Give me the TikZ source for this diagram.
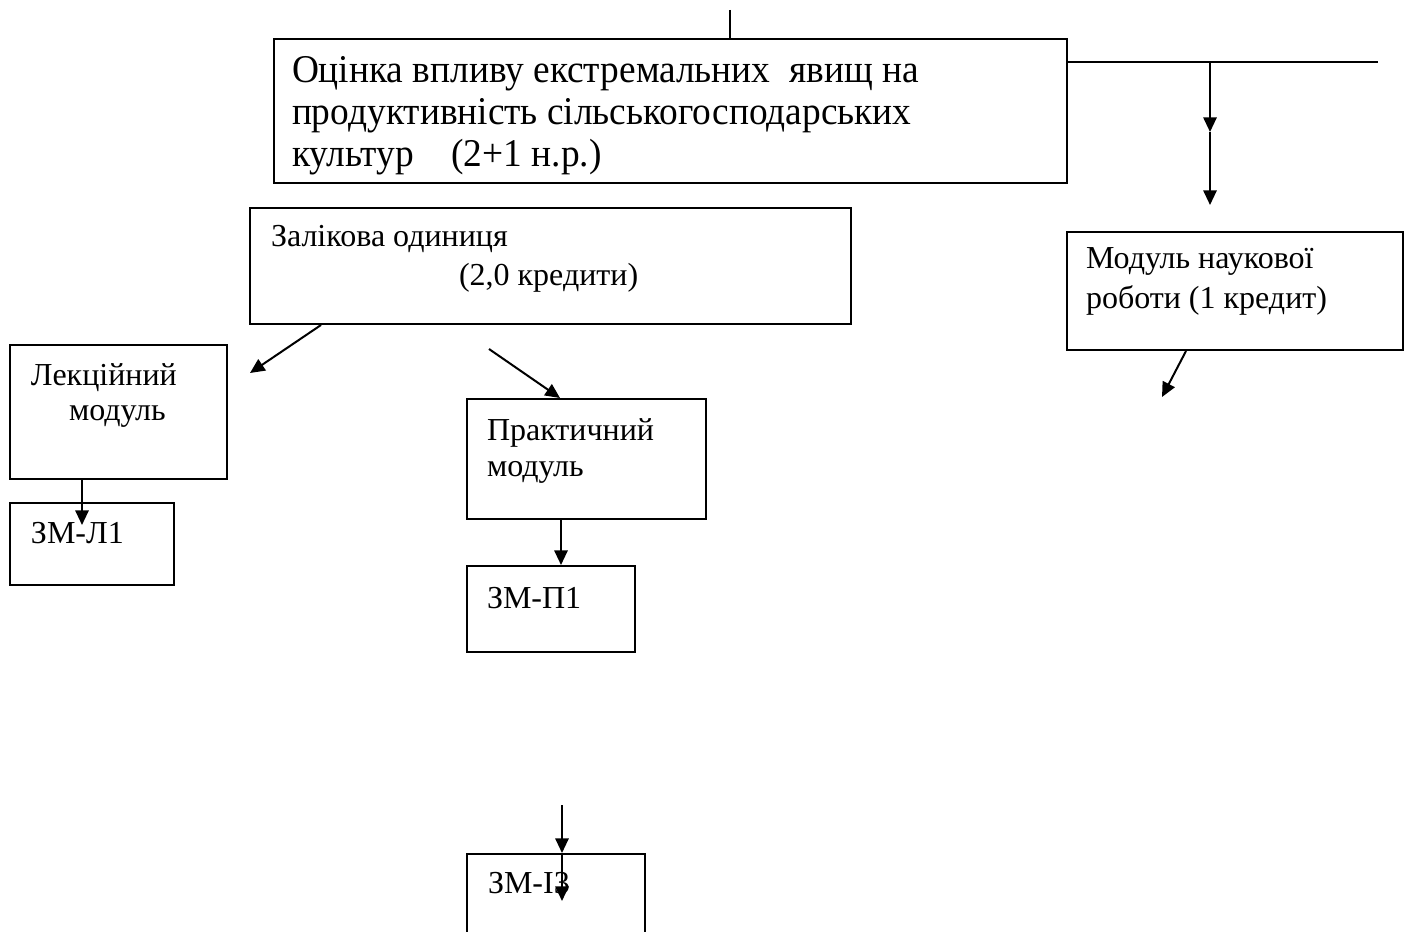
\documentclass[tikz,border=0pt]{standalone}
\usepackage{fontspec}
\setmainfont{Liberation Serif}
\newfontfamily\ttlfont[FakeStretch=0.95]{Liberation Serif}
\usetikzlibrary{arrows.meta}

\tikzset{every picture/.style={line width=1.5pt}}

\begin{document}
\begin{tikzpicture}[x=0.75pt,y=0.75pt,yscale=-1,xscale=1,
  box/.style={draw,rectangle,anchor=north west,inner sep=0pt},
  lbl/.style={anchor=base west,inner sep=0pt,font=\fontsize{24}{28}\selectfont},
  ttl/.style={anchor=base west,inner sep=0pt,font=\ttlfont\fontsize{29.5}{32}\selectfont},
  arr/.style={-{Triangle[width=10pt,length=11pt]}}]
\clip (0,0) rectangle (1408,931);
%Shape: Rectangle [id:title]
\node (title) [box,minimum width=594.75pt,minimum height=108pt] at (273,38) {};
%Shape: Rectangle [id:zal]
\node (zal) [box,minimum width=450.75pt,minimum height=87pt] at (249,207) {};
%Shape: Rectangle [id:nauk]
\node (nauk) [box,minimum width=252pt,minimum height=88.5pt] at (1066,231) {};
%Shape: Rectangle [id:lek]
\node (lek) [box,minimum width=162.75pt,minimum height=100.5pt] at (9,344) {};
%Shape: Rectangle [id:zml1]
\node (zml1) [box,minimum width=123pt,minimum height=61.5pt] at (9,502) {};
%Shape: Rectangle [id:prak]
\node (prak) [box,minimum width=179.25pt,minimum height=90pt] at (466,398) {};
%Shape: Rectangle [id:zmp1]
\node (zmp1) [box,minimum width=126pt,minimum height=64.5pt] at (466,565) {};
%Shape: Rectangle [id:zmi3]
\node (zmi3) [box,minimum width=133.5pt,minimum height=90pt] at (466,853) {};
% Text Node
\node (ttlA) [ttl] at (291,83) {Оцінка впливу екстремальних\ \ явищ на};
% Text Node
\node (ttlB) [ttl] at (291,124.5) {продуктивність сільськогосподарських};
% Text Node
\node (ttlC) [ttl] at (291,166.5) {культур\ \ \ \ (2+1 н.р.)};
% Text Node
\node (zalA) [lbl] at (270,246) {Залікова одиниця};
% Text Node
\node (zalB) [lbl] at (458,285) {(2,0 кредити)};
% Text Node
\node (naukA) [lbl] at (1085,268) {Модуль наукової};
% Text Node
\node (naukB) [lbl] at (1085,308) {роботи (1 кредит)};
% Text Node
\node (lekA) [lbl] at (30,385) {Лекційний};
% Text Node
\node (lekB) [lbl] at (68,420) {модуль};
% Text Node
\node (prakA) [lbl] at (486,440) {Практичний};
% Text Node
\node (prakB) [lbl] at (486,476) {модуль};
% Text Node
\node (zml1T) [lbl] at (30,543) {ЗМ-Л1};
% Text Node
\node (zmp1T) [lbl] at (486,608) {ЗМ-П1};
% Text Node
\node (zmi3T) [lbl] at (487,893) {ЗМ-І3};
%Straight Lines
\coordinate (topEnd) at (730,10);
\draw (topEnd) -- (topEnd |- title.north);
%Straight Lines
\coordinate (brEnd) at (1378,62);
\draw (brEnd -| title.east) -- (brEnd);
%Straight Lines
\coordinate (brTee) at (1210,62);
\coordinate (brMid) at (1210,132);
\coordinate (brTip) at (1210,205);
\draw[arr] (brTee) -- (brMid);
\draw[arr] (brMid) -- (brTip);
%Straight Lines
\coordinate (zalLeft) at (250,373);
\draw[arr] ([xshift=54pt]zal.south west) -- (zalLeft);
%Straight Lines
\coordinate (zalRight) at (489,349);
\draw[arr] (zalRight) -- ([xshift=70.5pt]prak.north west);
%Straight Lines
\coordinate (naukTip) at (1162,397);
\draw[arr] ([xshift=90pt]nauk.south west) -- (naukTip);
%Straight Lines
\coordinate (lekTip) at (82,525);
\draw[arr] (lekTip |- lek.south) -- (lekTip);
%Straight Lines
\draw[arr] ([xshift=71.25pt]prak.south west) -- ([xshift=71.25pt]zmp1.north west);
%Straight Lines
\coordinate (zmiTop) at (562,805);
\coordinate (zmiTip) at (562,901);
\draw[arr] (zmiTop) -- (zmiTop |- zmi3.north);
\draw[arr] (zmiTop |- zmi3.north) -- (zmiTip);
\end{tikzpicture}
\end{document}
